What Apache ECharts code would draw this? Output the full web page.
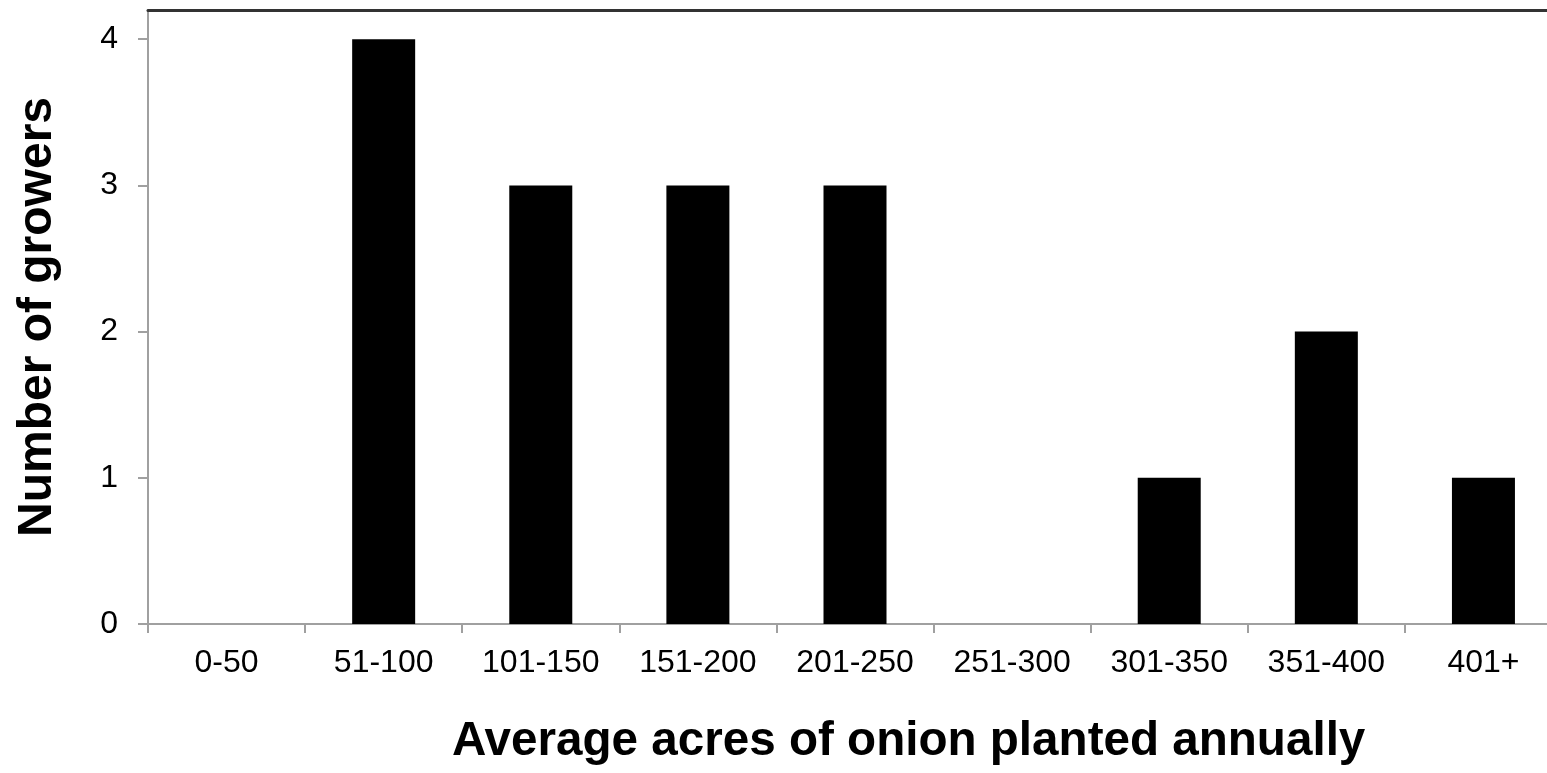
<!DOCTYPE html>
<html>
<head>
<meta charset="utf-8">
<script src="https://cdn.jsdelivr.net/npm/echarts@6/dist/echarts.min.js"></script>
<style>
  html, body { margin: 0; padding: 0; background: #fff; }
  #chart { width: 1547px; height: 773px; }
</style>
</head>
<body>
<div id="chart"></div>
<script>
// Acreage bands and grower counts
const categories = ['0-50', '51-100', '101-150', '151-200', '201-250', '251-300', '301-350', '351-400', '401+'];
const growers = [0, 4, 3, 3, 3, 0, 1, 2, 1];
const yTicks = [0, 1, 2, 3, 4];

const FONT = 'Liberation Sans, Arial, sans-serif';

const chart = echarts.init(document.getElementById('chart'), null, { renderer: 'canvas' });

chart.setOption({
  animation: false,
  backgroundColor: '#ffffff',
  title: {
    text: 'Average acres of onion planted annually',
    left: 452,
    top: 718,
    padding: 0,
    textStyle: { fontFamily: FONT, fontSize: 47.6, fontWeight: 'bold', color: '#000' }
  },
  // the plot runs slightly past the right edge of the canvas
  grid: { left: 148, right: -15, top: 10, bottom: 149, containLabel: false, outerBoundsMode: 'none' },
  xAxis: [
    {
      type: 'category',
      data: categories,
      position: 'bottom',
      axisLine: { show: true, lineStyle: { color: '#a0a0a0', width: 2 } },
      axisTick: { show: true, alignWithLabel: false, length: 9, lineStyle: { color: '#a0a0a0', width: 2 } },
      axisLabel: { margin: 23, fontFamily: FONT, fontSize: 32, color: '#000' },
      splitLine: { show: false }
    },
    {
      // dark frame line along the top of the plot
      type: 'category',
      data: categories,
      position: 'top',
      axisLine: { show: true, lineStyle: { color: '#333333', width: 3 } },
      axisTick: { show: false },
      axisLabel: { show: false },
      splitLine: { show: false }
    }
  ],
  yAxis: {
    type: 'value',
    min: 0,
    max: 4.2,
    name: 'Number of growers',
    nameLocation: 'middle',
    nameGap: 86,
    nameRotate: 90,
    nameTextStyle: { fontFamily: FONT, fontSize: 48, fontWeight: 'bold', color: '#000' },
    axisLine: { show: true, lineStyle: { color: '#a0a0a0', width: 2 } },
    axisTick: { show: true, length: 10, customValues: yTicks, lineStyle: { color: '#a0a0a0', width: 2 } },
    axisLabel: { margin: 30, customValues: yTicks, fontFamily: FONT, fontSize: 32, color: '#000' },
    splitLine: { show: false }
  },
  series: [
    {
      type: 'bar',
      data: growers,
      barWidth: 63,
      itemStyle: { color: '#000000', borderWidth: 0 }
    }
  ]
});
</script>
</body>
</html>
